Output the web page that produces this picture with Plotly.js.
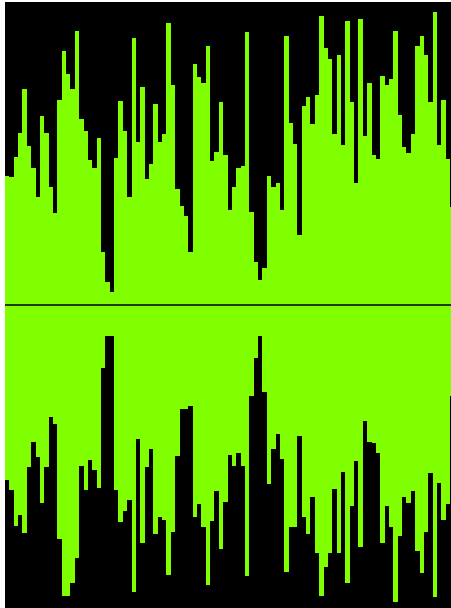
<!DOCTYPE html>
<html>
<head>
<meta charset="utf-8">
<script src="https://cdn.plot.ly/plotly-3.0.1.min.js"></script>
<style>
  html, body { margin: 0; padding: 0; background: #ffffff; }
  #chart { width: 451px; height: 608px; }
</style>
</head>
<body>
<div id="chart"></div>
<script>
// Upper series (amplitude above the centre line)
const upperValues = [
  129,128,148,172,216,159,137,108,189,172,
  118,92,205,254,231,216,274,186,174,145,
  137,167,53,23,13,147,204,174,108,267,
  163,218,126,141,201,163,171,282,220,116,
  99,89,53,241,228,222,259,144,153,203,
  150,95,118,137,139,273,93,43,25,37,
  129,118,122,95,269,182,161,70,199,208,
  181,210,289,257,246,171,250,160,284,203,
  122,286,169,222,150,146,229,220,226,274,
  190,158,152,171,259,269,250,203,293,160,
  205,146,98
];
// Lower series (amplitude below the centre line, as magnitudes)
const lowerValues = [
  175,185,221,210,228,162,137,152,198,162,
  112,119,234,291,291,278,253,161,185,155,
  165,183,63,31,31,185,217,206,195,287,
  134,238,162,144,229,212,215,270,227,151,
  104,104,101,212,199,222,280,216,186,244,
  197,150,161,148,161,271,91,53,31,87,
  179,144,129,154,267,222,222,131,212,229,
  192,248,291,262,248,184,248,167,278,201,
  156,242,116,137,138,148,238,201,222,297,
  231,192,198,186,246,268,227,168,292,178,
  215,199,91
];
const sampleIndex = upperValues.map((_, i) => i);
const lowerSigned = lowerValues.map(v => -v);

const green = '#80ff00';

const traces = [
  {
    type: 'bar',
    x: sampleIndex,
    y: upperValues,
    marker: { color: green, line: { width: 0 } },
    hoverinfo: 'skip'
  },
  {
    type: 'bar',
    x: sampleIndex,
    y: lowerSigned,
    marker: { color: green, line: { width: 0 } },
    hoverinfo: 'skip'
  }
];

const layout = {
  width: 451,
  height: 608,
  autosize: false,
  margin: { l: 5, r: 0, t: 2, b: 0, pad: 0 },
  paper_bgcolor: '#ffffff',
  plot_bgcolor: '#000000',
  showlegend: false,
  barmode: 'relative',
  bargap: 0,
  xaxis: {
    range: [-0.5, 101.72],
    showgrid: false,
    zeroline: false,
    showticklabels: false,
    ticks: '',
    showline: false,
    fixedrange: true
  },
  yaxis: {
    range: [-303, 303],
    showgrid: false,
    zeroline: false,
    showticklabels: false,
    ticks: '',
    showline: false,
    fixedrange: true
  },
  shapes: [
    {
      type: 'line',
      layer: 'above',
      xref: 'paper', x0: 0, x1: 1,
      yref: 'y', y0: 0, y1: 0,
      line: { color: '#1e3a00', width: 2 }
    }
  ]
};

Plotly.newPlot('chart', traces, layout, { staticPlot: true, displayModeBar: false });
</script>
</body>
</html>
